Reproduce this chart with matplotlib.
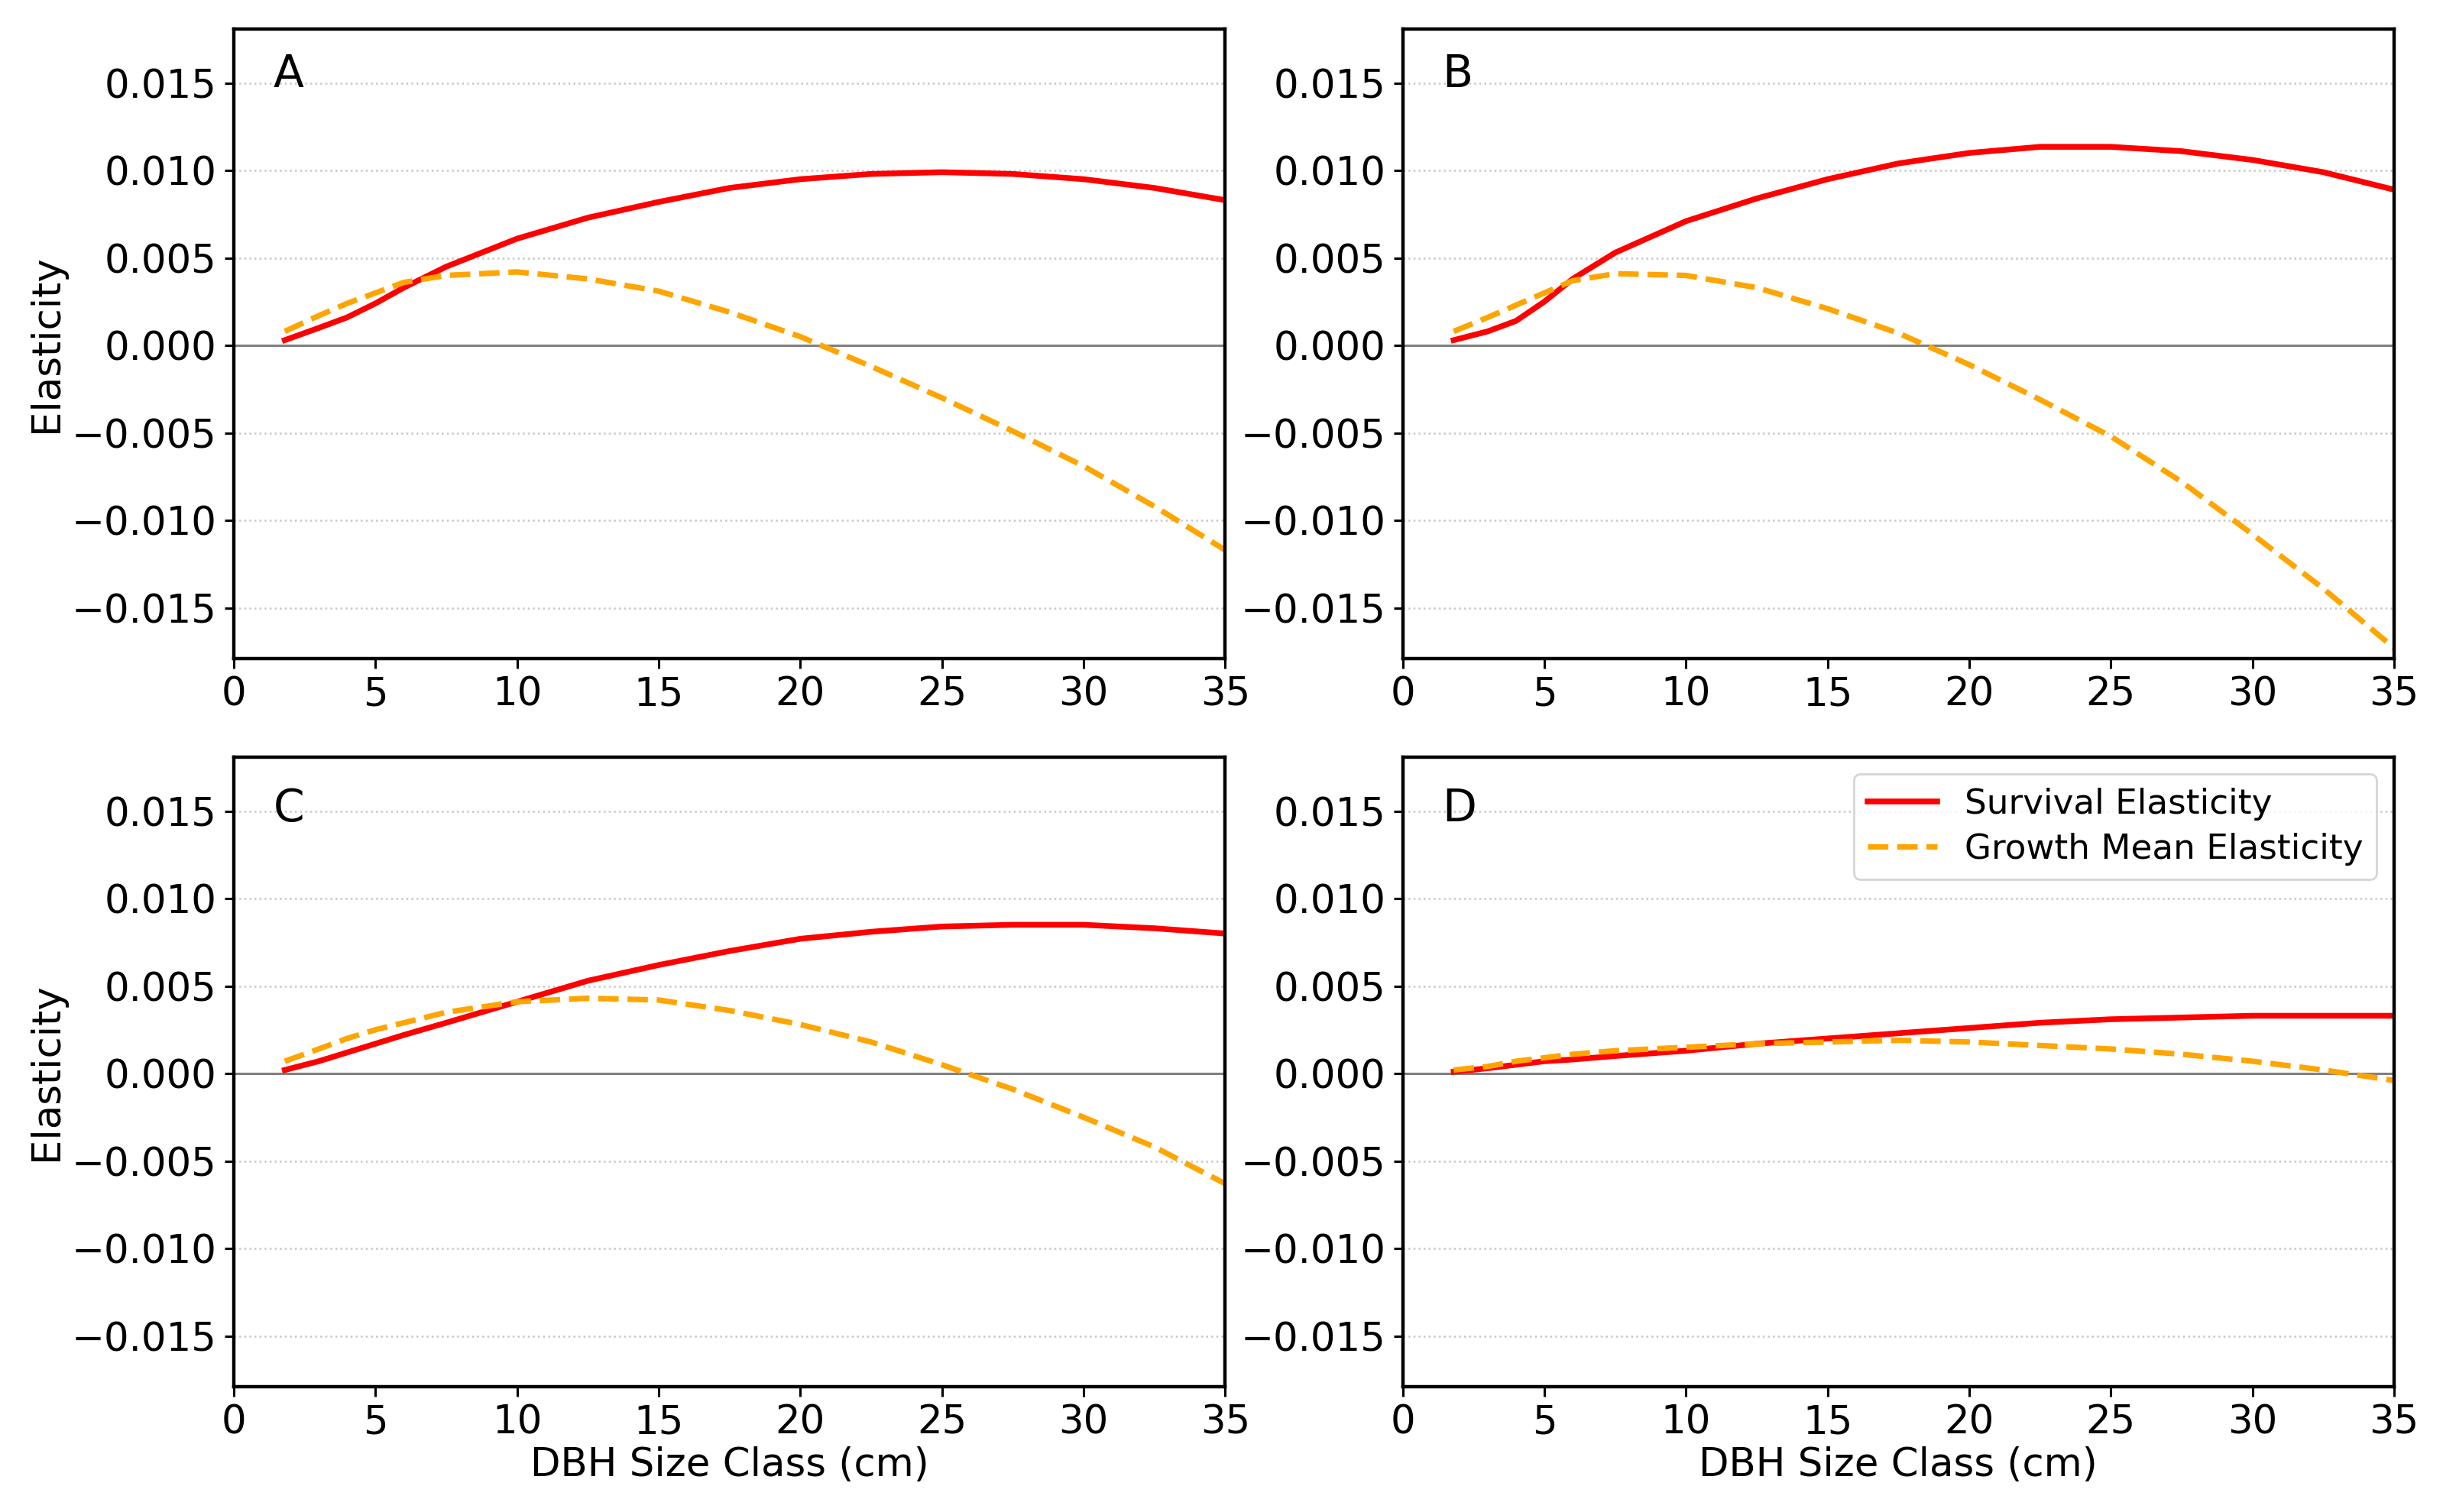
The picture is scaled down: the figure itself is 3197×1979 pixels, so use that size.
import matplotlib
matplotlib.use("Agg")
import matplotlib.pyplot as plt

# ---- data ----
dbh = [1.8, 3, 4, 5, 6, 7.5, 10, 12.5, 15, 17.5, 20, 22.5, 25, 27.5, 30, 32.5, 35]

surv_A = [0.0003, 0.0010, 0.0016, 0.0024, 0.0033, 0.0045, 0.0061, 0.0073, 0.0082, 0.0090, 0.0095, 0.0098, 0.0099, 0.0098, 0.0095, 0.0090, 0.0083]
grow_A = [0.0008, 0.0017, 0.0024, 0.0030, 0.0036, 0.0040, 0.0042, 0.0038, 0.0031, 0.0019, 0.0005, -0.0012, -0.0030, -0.0049, -0.0069, -0.0092, -0.0117]

surv_B = [0.0003, 0.0008, 0.0014, 0.0025, 0.0038, 0.0053, 0.0071, 0.0084, 0.0095, 0.0104, 0.0110, 0.01135, 0.01135, 0.0111, 0.0106, 0.0099, 0.0089]
grow_B = [0.0008, 0.0016, 0.0023, 0.0030, 0.0037, 0.0041, 0.0040, 0.0033, 0.0021, 0.0007, -0.0011, -0.0031, -0.0052, -0.0078, -0.0108, -0.0139, -0.0173]

surv_C = [0.0002, 0.0007, 0.0012, 0.0017, 0.0022, 0.0029, 0.0041, 0.0053, 0.0062, 0.0070, 0.0077, 0.0081, 0.0084, 0.0085, 0.0085, 0.0083, 0.0080]
grow_C = [0.0007, 0.0014, 0.0020, 0.0025, 0.0029, 0.0035, 0.0041, 0.0043, 0.0042, 0.0036, 0.0028, 0.0018, 0.0005, -0.0009, -0.0025, -0.0042, -0.0063]

surv_D = [0.0001, 0.0003, 0.0005, 0.0007, 0.0008, 0.0010, 0.0013, 0.0017, 0.0020, 0.0023, 0.0026, 0.0029, 0.0031, 0.0032, 0.0033, 0.0033, 0.0033]
grow_D = [0.0002, 0.0004, 0.0007, 0.0009, 0.0011, 0.0013, 0.0015, 0.0017, 0.0018, 0.0019, 0.0018, 0.0016, 0.0014, 0.0011, 0.0007, 0.0002, -0.0004]

panel_labels = ["A", "B", "C", "D"]
survival = [surv_A, surv_B, surv_C, surv_D]
growth = [grow_A, grow_B, grow_C, grow_D]
x_ticks = [0, 5, 10, 15, 20, 25, 30, 35]
y_ticks = [-0.015, -0.010, -0.005, 0.000, 0.005, 0.010, 0.015]
y_ticklabels = ["\u22120.015", "\u22120.010", "\u22120.005", "0.000", "0.005", "0.010", "0.015"]

plt.rcParams["font.family"] = ["DejaVu Sans"]

fig, axes = plt.subplots(2, 2, figsize=(15.985, 9.895), dpi=200)
fig.subplots_adjust(left=0.0957, right=0.980, bottom=0.0829, top=0.981,
                    wspace=0.179, hspace=0.156)

label_y = [0.962, 0.962, 0.952, 0.952]
for i, ax in enumerate(axes.flat):
    ax.plot(dbh, survival[i], color="red", lw=2.7, label="Survival Elasticity")
    ax.plot(dbh, growth[i], color="orange", lw=2.6, linestyle="--",
            label="Growth Mean Elasticity")
    ax.axhline(0, color="grey", lw=1.1, zorder=1)
    ax.set_xlim(0, 35)
    ax.set_ylim(-0.0179, 0.0181)
    ax.set_xticks(x_ticks)
    ax.set_yticks(y_ticks)
    ax.set_yticklabels(y_ticklabels)
    ax.tick_params(labelsize=18.5, length=4.5, width=1.1)
    ax.yaxis.grid(True, linestyle=":", color="#c8c8c8", lw=0.9)
    ax.set_axisbelow(True)
    for sp in ax.spines.values():
        sp.set_linewidth(1.6)
    ax.text(0.04, label_y[i], panel_labels[i], transform=ax.transAxes,
            ha="left", va="top", fontsize=21)
    if i % 2 == 0:
        ax.set_ylabel("Elasticity", fontsize=18.5, labelpad=3)
    if i >= 2:
        ax.set_xlabel("DBH Size Class (cm)", fontsize=18.5, labelpad=2)

axes[1, 1].legend(loc="upper right", fontsize=16.3, frameon=True,
                  handlelength=2.0, borderpad=0.4, labelspacing=0.35)

fig.savefig("out.png", dpi=200)
